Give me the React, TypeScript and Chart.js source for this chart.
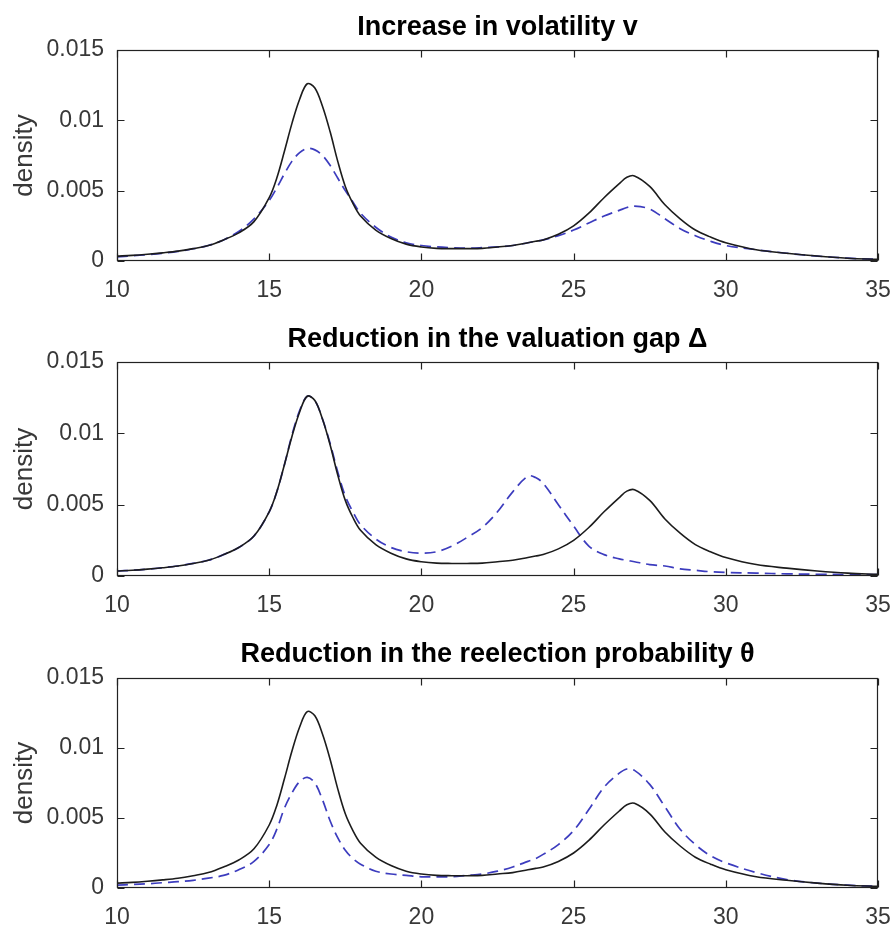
import React, { useEffect, useRef } from "react";
import { Chart, registerables } from "chart.js";

Chart.register(...registerables);

// ---------- data ----------
const xValues = [
  10, 10.5, 11, 11.5, 12, 12.5, 13, 13.5, 14, 14.5,
  15, 15.25, 15.5, 15.75, 16, 16.25, 16.5, 16.75, 17, 17.25, 17.5,
  17.75, 18, 18.5, 19, 19.5, 20, 20.5, 21, 21.5, 22, 22.5, 23, 23.5,
  23.75,
  24, 24.5, 25, 25.5, 26, 26.5,
  26.75,
  27, 27.5, 28, 28.5, 29, 29.5, 30,
  31, 32, 33, 34, 35,
];

// benchmark density (solid black, same in all panels)
const baseline = [
  0.00035, 0.0004, 0.00048, 0.00058, 0.0007, 0.00088, 0.0011, 0.0015, 0.002, 0.0028,
  0.0045, 0.0059, 0.0078, 0.0098, 0.0115, 0.0126, 0.0123, 0.011, 0.0092, 0.0071, 0.0053,
  0.0041, 0.0032, 0.0022, 0.0016, 0.0012, 0.001, 0.0009, 0.00088, 0.00088, 0.0009, 0.001, 0.0011, 0.0013,
  0.0014,
  0.0015, 0.0019, 0.0025, 0.0034, 0.0045, 0.0055,
  0.00595,
  0.00605, 0.0053, 0.004, 0.003, 0.0022, 0.0017, 0.0013,
  0.0008, 0.00055, 0.00035, 0.0002, 0.00012,
];

// dashed: increase in volatility v
const volatilityUp = [
  0.0003, 0.00037, 0.00045, 0.00055, 0.00068, 0.00087, 0.0011, 0.0015, 0.0021, 0.003,
  0.0043, 0.0052, 0.0062, 0.0071, 0.0077, 0.008, 0.0079, 0.0075, 0.0068, 0.0059, 0.005,
  0.0042, 0.0034, 0.0024, 0.0017, 0.0013, 0.0011, 0.001, 0.00095, 0.00092, 0.00095, 0.001, 0.0011, 0.0013,
  0.0014,
  0.0015, 0.0018, 0.0022, 0.0027, 0.0032, 0.0036,
  0.0038,
  0.0039, 0.0037, 0.003, 0.0023, 0.0018, 0.0014, 0.0011,
  0.0008, 0.00055, 0.00035, 0.0002, 0.00012,
];

// dashed: reduction in the valuation gap
const gapDown = [
  0.00035, 0.0004, 0.00048, 0.00058, 0.0007, 0.00088, 0.0011, 0.0015, 0.002, 0.0028,
  0.0045, 0.0059, 0.0078, 0.0099, 0.0116, 0.0126, 0.0123, 0.011, 0.0093, 0.0073, 0.0056,
  0.0045, 0.0036, 0.0026, 0.002, 0.0017, 0.0016, 0.0017, 0.0021, 0.0027, 0.0034, 0.0045, 0.0059, 0.007,
  0.0069,
  0.0065, 0.005, 0.0035, 0.0021, 0.0015, 0.0012,
  0.0011,
  0.001, 0.0008, 0.0007, 0.0005, 0.0004, 0.0003, 0.00025,
  0.0002, 0.00015, 0.00012, 0.0001, 0.0001,
];

// dashed: reduction in the reelection probability
const thetaDown = [
  0.0002, 0.00025, 0.0003, 0.00038, 0.00045, 0.00055, 0.0007, 0.0009, 0.0013, 0.0019,
  0.0031, 0.0042, 0.0057, 0.0068, 0.0076, 0.0079, 0.0075, 0.0063, 0.0048, 0.0036, 0.0027,
  0.0021, 0.0017, 0.0012, 0.001, 0.0009, 0.0008, 0.0008, 0.0008, 0.0009, 0.001, 0.0012, 0.0015, 0.0019,
  0.0021,
  0.0024, 0.0031, 0.0041, 0.0056, 0.0072, 0.0082,
  0.0085,
  0.0084, 0.0074, 0.0058, 0.0042, 0.0031, 0.0023, 0.0018,
  0.0011, 0.0006, 0.00035, 0.0002, 0.00012,
];

const xTicks = [10, 15, 20, 25, 30, 35];
const yTicks = [0, 0.005, 0.01, 0.015];
const yTickLabels = ["0", "0.005", "0.01", "0.015"];
const titles = [
  "Increase in volatility v",
  "Reduction in the valuation gap \u0394",
  "Reduction in the reelection probability \u03B8",
];
const yAxisLabel = "density";

// ---------- layout / style ----------
const FONT = "'Liberation Sans', Arial, Helvetica, sans-serif";
const W = 895;

const panelLayouts = [
  { top: 0, height: 310, titlePad: { top: 11, bottom: 6.6 }, xAxisH: 49 },
  { top: 310, height: 310, titlePad: { top: 13, bottom: 6.6 }, xAxisH: 44 },
  { top: 620, height: 306, titlePad: { top: 18, bottom: 7.6 }, xAxisH: 38 },
];
const dashedSeries = [volatilityUp, gapDown, thetaDown];

const framePlugin = {
  id: "matlabFrame",
  afterDraw(chart: any) {
    const { ctx, chartArea, scales } = chart;
    const l = Math.round(chartArea.left) + 0.5;
    const r = Math.round(chartArea.right) - 0.5;
    const t = Math.round(chartArea.top) + 0.5;
    const b = Math.round(chartArea.bottom) - 0.5;
    const tl = 7;
    ctx.save();
    ctx.strokeStyle = "#222";
    ctx.lineWidth = 1.2;
    ctx.strokeRect(l, t, r - l, b - t);
    ctx.beginPath();
    for (const v of xTicks) {
      const px = Math.round(scales.x.getPixelForValue(v)) + 0.5;
      ctx.moveTo(px, b);
      ctx.lineTo(px, b - tl);
      ctx.moveTo(px, t);
      ctx.lineTo(px, t + tl);
    }
    for (const v of yTicks) {
      const py = Math.round(scales.y.getPixelForValue(v)) + 0.5;
      ctx.moveTo(l, py);
      ctx.lineTo(l + tl, py);
      ctx.moveTo(r, py);
      ctx.lineTo(r - tl, py);
    }
    ctx.stroke();
    ctx.restore();
  },
};

function Panel({ index }: { index: number }) {
  const ref = useRef<HTMLCanvasElement | null>(null);
  const lay = panelLayouts[index];
  useEffect(() => {
    if (!ref.current) return;
    const chart = new Chart(ref.current, {
      type: "line",
      data: {
        datasets: [
          {
            data: xValues.map((x, i) => ({ x, y: baseline[i] })),
            borderColor: "#1c1c1c",
            borderWidth: 1.6,
            pointRadius: 0,
            fill: false,
            tension: 0.35,
          },
          {
            data: xValues.map((x, i) => ({ x, y: dashedSeries[index][i] })),
            borderColor: "#3c3cbe",
            borderWidth: 1.7,
            borderDash: [11, 6],
            pointRadius: 0,
            fill: false,
            tension: 0.35,
          },
        ],
      },
      options: {
        animation: false,
        responsive: false,
        devicePixelRatio: 1,
        layout: { padding: { top: 0, left: 9, right: 17, bottom: 0 } },
        plugins: {
          legend: { display: false },
          tooltip: { enabled: false },
          title: {
            display: true,
            text: titles[index],
            fullSize: false,
            color: "#000",
            font: { family: FONT, size: 27, weight: "bold" },
            padding: lay.titlePad,
          },
        },
        scales: {
          x: {
            type: "linear",
            min: 10,
            max: 35,
            afterBuildTicks: (s: any) => {
              s.ticks = xTicks.map((v) => ({ value: v }));
            },
            afterFit: (s: any) => {
              s.height = lay.xAxisH;
              s.paddingLeft = 0;
              s.paddingRight = 0;
            },
            grid: { display: false, drawTicks: false },
            border: { display: false },
            ticks: {
              padding: 16,
              color: "#383838",
              font: { family: FONT, size: 23 },
              maxRotation: 0,
              autoSkip: false,
            },
          },
          y: {
            type: "linear",
            min: 0,
            max: 0.015,
            afterBuildTicks: (s: any) => {
              s.ticks = yTicks.map((v) => ({ value: v }));
            },
            afterFit: (s: any) => {
              s.width = 108;
            },
            grid: { display: false, drawTicks: false },
            border: { display: false },
            ticks: {
              padding: 13,
              color: "#383838",
              font: { family: FONT, size: 23 },
              callback: (v: any) => {
                const i = yTicks.indexOf(Number(v));
                return i >= 0 ? yTickLabels[i] : "";
              },
            },
            title: {
              display: true,
              text: yAxisLabel,
              color: "#383838",
              font: { family: FONT, size: 26 },
              padding: 0,
            },
          },
        },
      } as any,
      plugins: [framePlugin],
    });
    return () => chart.destroy();
  }, [index]);
  return (
    <canvas
      ref={ref}
      width={W}
      height={lay.height}
      style={{ position: "absolute", left: 0, top: lay.top, width: W, height: lay.height }}
    />
  );
}

export default function App() {
  return (
    <div style={{ position: "absolute", left: 0, top: 0, width: W, height: 926, background: "#fff", overflow: "hidden" }}>
      <Panel index={0} />
      <Panel index={1} />
      <Panel index={2} />
    </div>
  );
}
